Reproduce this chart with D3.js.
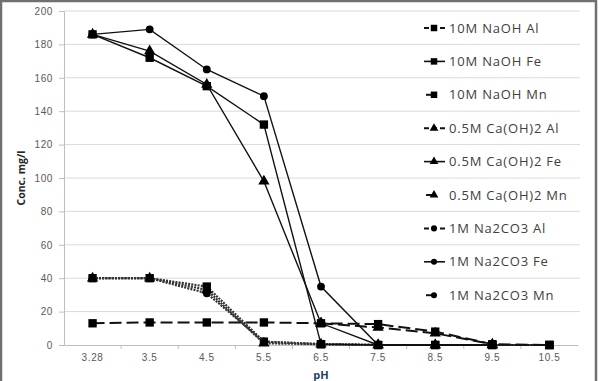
<!DOCTYPE html>
<html>
<head>
<meta charset="utf-8">
<script src="https://cdn.jsdelivr.net/npm/d3@7"></script>
<style>
  body { margin: 0; background: #fff; }
  svg { display: block; font-family: "Open Sans", "Liberation Sans", sans-serif; }
</style>
</head>
<body>
<div id="chart"></div>
<script>
// pH categories
const phLabels = ["3.28", "3.5", "4.5", "5.5", "6.5", "7.5", "8.5", "9.5", "10.5"];

// Conc. mg/l (null = no point)
const naohAl = [13, 13.5, 13.5, 13.5, 13, 12.5, 8, 0.5, 0];
const naohFe = [186, 172, 155, 132, 0.5, 0, 0, 0, 0];
const naohMn = [40, 40, 35, 2, 0.5, 0, 0, 0, 0];
const caAl = [null, null, null, null, 13, 10.5, 7, 0.5, null];
const caFe = [186, 176, 156, 98, 13, 0, 0, 0, null];
const caMn = [40, 40, 33, 1, 0.5, 0, 0, 0, null];
const naco3Al = [null, null, null, null, null, 0, 0, 0, null];
const naco3Fe = [186, 189, 165, 149, 35, 0, 0, 0, null];
const naco3Mn = [40, 40, 31, 2, 0.5, 0, 0, 0, null];

const seriesNames = [
  "10M NaOH Al", "10M NaOH Fe", "10M NaOH Mn",
  "0.5M Ca(OH)2 Al", "0.5M Ca(OH)2 Fe", "0.5M Ca(OH)2 Mn",
  "1M Na2CO3 Al", "1M Na2CO3 Fe", "1M Na2CO3 Mn"
];
const seriesValues = [naohAl, naohFe, naohMn, caAl, caFe, caMn, naco3Al, naco3Fe, naco3Mn];
const seriesMarker = ["square", "square", "square", "triangle", "triangle", "triangle", "circle", "circle", "circle"];
const seriesDash = ["long", "solid", "dot", "long", "solid", "dot", "long", "solid", "dot"];

const width = 599, height = 381;
const margin = { top: 11, right: 13, bottom: 36, left: 64 };

const svg = d3.select("#chart").append("svg")
  .attr("width", width)
  .attr("height", height);

// frame
svg.append("rect")
  .attr("x", 1).attr("y", 1)
  .attr("width", width - 4).attr("height", height + 5)
  .attr("fill", "none")
  .attr("stroke", "#707070")
  .attr("stroke-width", 2.5);

const x = d3.scaleBand()
  .domain(phLabels)
  .range([margin.left, width - margin.right - 8]);

const y = d3.scaleLinear()
  .domain([0, 200])
  .range([height - margin.bottom, margin.top]);

// gridlines
svg.append("g")
  .selectAll("line")
  .data(y.ticks(10).filter(d => d > 0))
  .join("line")
  .attr("x1", margin.left).attr("x2", x.range()[1] + 2)
  .attr("y1", d => y(d)).attr("y2", d => y(d))
  .attr("stroke", "#d9d9d9")
  .attr("stroke-width", 1);

// y axis
const yAxis = svg.append("g")
  .attr("transform", `translate(${margin.left},0)`)
  .call(d3.axisLeft(y).ticks(10).tickSize(5).tickPadding(6));
yAxis.select(".domain").attr("stroke", "#bfbfbf");
yAxis.selectAll(".tick line").attr("stroke", "#bfbfbf");
yAxis.selectAll(".tick text")
  .attr("fill", "#595959")
  .style("font-size", "10px")
  .style("letter-spacing", "0.6px");

// x axis, ticks sit between categories
const xAxis = svg.append("g")
  .attr("transform", `translate(0,${y(0)})`)
  .call(d3.axisBottom(x).tickSize(0).tickPadding(9));
xAxis.select(".domain").attr("stroke", "#bfbfbf");
xAxis.selectAll(".tick text")
  .attr("fill", "#595959")
  .style("font-size", "10px")
  .style("letter-spacing", "0.6px");
xAxis.selectAll(".sep")
  .data(phLabels.slice(1))
  .join("line")
  .attr("class", "sep")
  .attr("x1", d => x(d)).attr("x2", d => x(d))
  .attr("y1", 0).attr("y2", 4)
  .attr("stroke", "#bfbfbf");

// axis titles
svg.append("text")
  .attr("transform", `translate(25,${(y(0) + y(200)) / 2}) rotate(-90)`)
  .attr("text-anchor", "middle")
  .style("font-size", "10.5px")
  .style("font-weight", "bold")
  .attr("fill", "#262626")
  .text("Conc. mg/l");

svg.append("text")
  .attr("x", (x.range()[0] + x.range()[1]) / 2)
  .attr("y", 379)
  .attr("text-anchor", "middle")
  .style("font-size", "11px")
  .style("font-weight", "bold")
  .attr("fill", "#243f60")
  .text("pH");

const dashArray = { long: "12,5", solid: null, dot: "2,1.2" };
const strokeW = { long: 2, solid: 1.4, dot: 2.2 };
const strokeC = { long: "#111", solid: "#111", dot: "#333" };

const symbolType = { square: d3.symbolSquare, triangle: d3.symbolTriangle, circle: d3.symbolCircle };
const symbolSize = { square: 70, triangle: 55, circle: 48 };

const line = d3.line()
  .defined(d => d.v !== null)
  .x(d => x(d.ph) + x.bandwidth() / 2)
  .y(d => y(d.v));

const series = seriesNames.map((name, i) => ({
  name,
  marker: seriesMarker[i],
  dash: seriesDash[i],
  points: seriesValues[i].map((v, j) => ({ ph: phLabels[j], v }))
}));

// draw order: dotted and dashed under the solid lines
const order = [2, 5, 8, 6, 3, 0, 1, 4, 7];
const plot = svg.append("g");
order.forEach(i => {
  const s = series[i];
  plot.append("path")
    .datum(s.points)
    .attr("fill", "none")
    .attr("stroke", strokeC[s.dash])
    .attr("stroke-width", strokeW[s.dash])
    .attr("stroke-dasharray", dashArray[s.dash])
    .attr("d", line);
  plot.append("g")
    .selectAll("path")
    .data(s.points.filter(d => d.v !== null))
    .join("path")
    .attr("transform", d => `translate(${x(d.ph) + x.bandwidth() / 2},${y(d.v)})`)
    .attr("d", d3.symbol().type(symbolType[s.marker]).size(symbolSize[s.marker]))
    .attr("fill", "#000");
});

// legend
const legend = svg.append("g");
const legY0 = 28, legStep = (y(0) - y(200)) / 10;
series.forEach((s, i) => {
  const g = legend.append("g").attr("transform", `translate(0,${legY0 + i * legStep})`);
  const lx1 = s.dash === "dot" ? 426 : 424;
  const lx2 = s.dash === "dot" ? 434 : 445;
  g.append("line")
    .attr("x1", lx1).attr("x2", lx2)
    .attr("y1", 0).attr("y2", 0)
    .attr("stroke", "#111")
    .attr("stroke-width", s.dash === "solid" ? 1.6 : 2)
    .attr("stroke-dasharray", s.dash === "long" ? "5,3" : null);
  g.append("path")
    .attr("transform", "translate(434,0)")
    .attr("d", d3.symbol().type(symbolType[s.marker]).size(symbolSize[s.marker] * 0.6))
    .attr("fill", "#000");
  g.append("text")
    .attr("x", 449)
    .attr("y", 4.5)
    .style("font-size", "13px")
    .style("letter-spacing", "0.8px")
    .attr("fill", "#404040")
    .text(s.name);
});
</script>
</body>
</html>
